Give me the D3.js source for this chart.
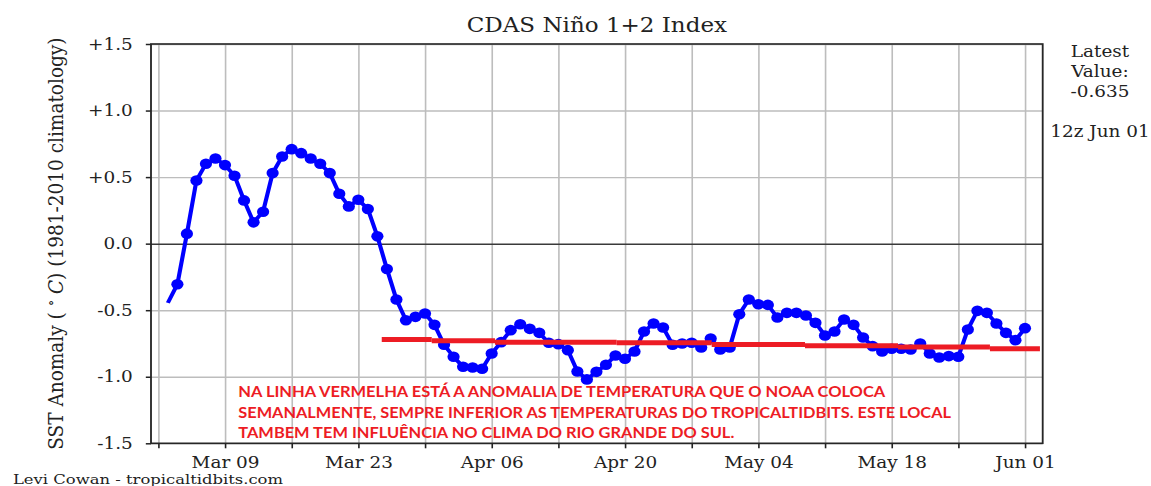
<!DOCTYPE html>
<html>
<head>
<meta charset="utf-8">
<script src="https://cdn.jsdelivr.net/npm/d3@7"></script>
<style>
  body { margin: 0; background: #fff; }
  svg text { font-family: "DejaVu Serif", serif; fill: #222; }
  .note { font-family: Lato, "Open Sans", sans-serif; font-weight: 700; fill: #ed1c24; }
</style>
</head>
<body>
<div id="chart"></div>
<script>
// daily dates of the index
var dates = [
  "2020-03-03","2020-03-04","2020-03-05","2020-03-06","2020-03-07","2020-03-08","2020-03-09","2020-03-10",
  "2020-03-11","2020-03-12","2020-03-13","2020-03-14","2020-03-15","2020-03-16","2020-03-17","2020-03-18",
  "2020-03-19","2020-03-20","2020-03-21","2020-03-22","2020-03-23","2020-03-24","2020-03-25","2020-03-26",
  "2020-03-27","2020-03-28","2020-03-29","2020-03-30","2020-03-31","2020-04-01","2020-04-02","2020-04-03",
  "2020-04-04","2020-04-05","2020-04-06","2020-04-07","2020-04-08","2020-04-09","2020-04-10","2020-04-11",
  "2020-04-12","2020-04-13","2020-04-14","2020-04-15","2020-04-16","2020-04-17","2020-04-18","2020-04-19",
  "2020-04-20","2020-04-21","2020-04-22","2020-04-23","2020-04-24","2020-04-25","2020-04-26","2020-04-27",
  "2020-04-28","2020-04-29","2020-04-30","2020-05-01","2020-05-02","2020-05-03","2020-05-04","2020-05-05",
  "2020-05-06","2020-05-07","2020-05-08","2020-05-09","2020-05-10","2020-05-11","2020-05-12","2020-05-13",
  "2020-05-14","2020-05-15","2020-05-16","2020-05-17","2020-05-18","2020-05-19","2020-05-20","2020-05-21",
  "2020-05-22","2020-05-23","2020-05-24","2020-05-25","2020-05-26","2020-05-27","2020-05-28","2020-05-29",
  "2020-05-30","2020-05-31","2020-06-01"
];

// SST anomaly values (deg C)
var anomaly = [
  -0.445, -0.305, 0.075, 0.475, 0.60, 0.64, 0.59, 0.51,
  0.325, 0.16, 0.24, 0.53, 0.655, 0.71, 0.68, 0.64,
  0.60, 0.53, 0.375, 0.28, 0.33, 0.26, 0.055, -0.19,
  -0.42, -0.575, -0.55, -0.525, -0.61, -0.76, -0.85, -0.925,
  -0.93, -0.94, -0.825, -0.74, -0.65, -0.605, -0.64, -0.67,
  -0.745, -0.755, -0.80, -0.96, -1.02, -0.963, -0.91, -0.84,
  -0.865, -0.81, -0.66, -0.60, -0.63, -0.76, -0.75, -0.745,
  -0.78, -0.713, -0.795, -0.78, -0.53, -0.42, -0.455, -0.46,
  -0.555, -0.52, -0.52, -0.54, -0.595, -0.69, -0.66, -0.57,
  -0.61, -0.705, -0.77, -0.81, -0.79, -0.79, -0.795, -0.75,
  -0.825, -0.855, -0.845, -0.85, -0.645, -0.505, -0.52, -0.60,
  -0.67, -0.725, -0.635
];

// hand drawn red line (weekly NOAA value), breakpoints and level of each piece
var redBreaks = ["2020-03-25T11:00","2020-03-30T17:00","2020-04-06T08:24","2020-04-19T03:00",
  "2020-04-29T02:30","2020-05-08T21:36","2020-05-18T16:00","2020-05-28T07:40","2020-06-02T13:40"];
var redValues = [-0.72, -0.73, -0.74, -0.745, -0.757, -0.768, -0.776, -0.789];

// axis ticks
var xDomain = ["2020-03-01T05:31", "2020-06-02T20:38"];
var xTickLabels = ["Mar 09", "Mar 23", "Apr 06", "Apr 20", "May 04", "May 18", "Jun 01"];
var yTicks = [-1.5, -1.0, -0.5, 0.0, 0.5, 1.0, 1.5];
var yTickLabels = ["-1.5", "-1.0", "-0.5", "0.0", "+0.5", "+1.0", "+1.5"];

var noteLines = [
  "NA LINHA VERMELHA ESTÁ A ANOMALIA DE TEMPERATURA QUE O NOAA COLOCA",
  "SEMANALMENTE, SEMPRE INFERIOR AS TEMPERATURAS DO TROPICALTIDBITS. ESTE LOCAL",
  "TAMBEM TEM INFLUÊNCIA NO CLIMA DO RIO GRANDE DO SUL."
];

//the reference image is stretched sideways, so draw in a narrower box and stretch it
var SX = 1.151;
var svgWidth = 1151;
var svgHeight = 486;

var plot = {
    left: 151 / SX,
    right: 1042.7 / SX,
    top: 44,
    bottom: 443.3
};

var svg = d3.select("#chart")
    .append("svg")
    .attr("width", svgWidth)
    .attr("height", svgHeight)
    .attr("viewBox", `0 0 ${svgWidth / SX} ${svgHeight}`)
    .attr("preserveAspectRatio", "none");

var parseDay = d3.timeParse("%Y-%m-%d");
var parseTime = d3.timeParse("%Y-%m-%dT%H:%M");

var series = dates.map((d, i) => ({date: parseDay(d), value: anomaly[i]}));

//scales
var xScale = d3.scaleTime()
    .domain(xDomain.map(parseTime))
    .range([plot.left, plot.right]);
var yScale = d3.scaleLinear()
    .domain([-1.5, 1.5])
    .range([plot.bottom, plot.top]);

//weekly ticks on mondays
var weeks = d3.timeMonday.range(xScale.domain()[0], xScale.domain()[1]);
var fmt = d3.timeFormat("%b %d");

//grid
svg.append("g")
    .attr("transform", `translate(0, ${plot.bottom})`)
    .call(d3.axisBottom(xScale).tickValues(weeks).tickSize(-(plot.bottom - plot.top)).tickFormat(""))
    .call(g => g.select(".domain").remove())
    .selectAll("line")
    .attr("stroke", "#bdbdbd")
    .attr("stroke-width", 1.4);

svg.append("g")
    .attr("transform", `translate(${plot.left}, 0)`)
    .call(d3.axisLeft(yScale).tickValues(yTicks).tickSize(-(plot.right - plot.left)).tickFormat(""))
    .call(g => g.select(".domain").remove())
    .selectAll("line")
    .attr("stroke", d => d === 0 ? "#3a3a3a" : "#bdbdbd")
    .attr("stroke-width", d => d === 0 ? 1.5 : 1.4);

//blue index line
var line = d3.line()
    .x(d => xScale(d.date))
    .y(d => yScale(d.value));

svg.append("path")
    .datum(series)
    .attr("fill", "none")
    .attr("stroke", "#0000ff")
    .attr("stroke-width", 3.6)
    .attr("stroke-linejoin", "round")
    .attr("d", line);

svg.selectAll(".dot")
    .data(series.slice(1))
    .enter()
    .append("circle")
    .classed("dot", true)
    .attr("cx", d => xScale(d.date))
    .attr("cy", d => yScale(d.value))
    .attr("r", 5.3)
    .attr("fill", "#0000ff");

//red weekly line
svg.selectAll(".red")
    .data(redValues)
    .enter()
    .append("line")
    .classed("red", true)
    .attr("x1", (d, i) => xScale(parseTime(redBreaks[i])))
    .attr("x2", (d, i) => xScale(parseTime(redBreaks[i + 1])))
    .attr("y1", d => yScale(d))
    .attr("y2", d => yScale(d))
    .attr("stroke", "#ed1c24")
    .attr("stroke-width", 5);

//note text
var noteWidths = [647, 712.7, 496];
var noteY = [397, 417.8, 438.4];
svg.selectAll(".note")
    .data(noteLines)
    .enter()
    .append("text")
    .classed("note", true)
    .attr("x", 238.3 / SX)
    .attr("y", (d, i) => noteY[i])
    .attr("font-size", 15.3)
    .attr("textLength", (d, i) => noteWidths[i] / SX)
    .attr("lengthAdjust", "spacingAndGlyphs")
    .text(d => d);

//axes
var xAxis = svg.append("g")
    .attr("transform", `translate(0, ${plot.bottom})`)
    .call(d3.axisBottom(xScale)
        .tickValues(weeks)
        .tickSize(5)
        .tickPadding(8.5)
        .tickFormat(d => xTickLabels.includes(fmt(d)) ? fmt(d) : ""));
xAxis.select(".domain").remove();
xAxis.selectAll("line").attr("stroke", "#222").attr("stroke-width", 1.4);
xAxis.selectAll("text").attr("font-size", 16).attr("font-family", "DejaVu Serif").attr("fill", "#222");

var yAxis = svg.append("g")
    .attr("transform", `translate(${plot.left}, 0)`)
    .call(d3.axisLeft(yScale)
        .tickValues(yTicks)
        .tickSize(4.5)
        .tickPadding(11.4)
        .tickFormat((d, i) => yTickLabels[i]));
yAxis.select(".domain").remove();
yAxis.selectAll("line").attr("stroke", "#222").attr("stroke-width", 1.5);
yAxis.selectAll("text").attr("font-size", 16).attr("font-family", "DejaVu Serif").attr("fill", "#222");

//frame
svg.append("rect")
    .attr("x", plot.left)
    .attr("y", plot.top)
    .attr("width", plot.right - plot.left)
    .attr("height", plot.bottom - plot.top)
    .attr("fill", "none")
    .attr("stroke", "#262626")
    .attr("stroke-width", 1.6);

//title
svg.append("text")
    .attr("x", (plot.left + plot.right) / 2)
    .attr("y", 32.3)
    .attr("text-anchor", "middle")
    .attr("font-size", 20)
    .text("CDAS Niño 1+2 Index");

//y label
var ylab = svg.append("text")
    .attr("transform", `translate(${62.7 / SX}, ${(plot.top + plot.bottom) / 2}) rotate(-90)`)
    .attr("text-anchor", "middle")
    .attr("font-size", 18.5);
ylab.append("tspan").text("SST Anomaly ( ");
ylab.append("tspan").attr("font-size", 13).attr("dy", -6).text("∘");
ylab.append("tspan").attr("dy", 6).attr("font-style", "italic").text(" C");
ylab.append("tspan").text(") (1981-2010 climatology)");

//latest value box
var latest = ["Latest", "Value:", "-0.635"];
svg.selectAll(".latest")
    .data(latest)
    .enter()
    .append("text")
    .classed("latest", true)
    .attr("x", 1100 / SX)
    .attr("y", (d, i) => 56.7 + i * 20)
    .attr("text-anchor", "middle")
    .attr("font-size", 16)
    .text(d => d);

svg.append("text")
    .attr("x", 1100 / SX)
    .attr("y", 136.7)
    .attr("text-anchor", "middle")
    .attr("font-size", 16)
    .text("12z Jun 01");

//credit
svg.append("text")
    .attr("x", 13 / SX)
    .attr("y", 484.3)
    .attr("font-size", 13.2)
    .attr("textLength", 270 / SX)
    .attr("lengthAdjust", "spacingAndGlyphs")
    .text("Levi Cowan - tropicaltidbits.com");
</script>
</body>
</html>
